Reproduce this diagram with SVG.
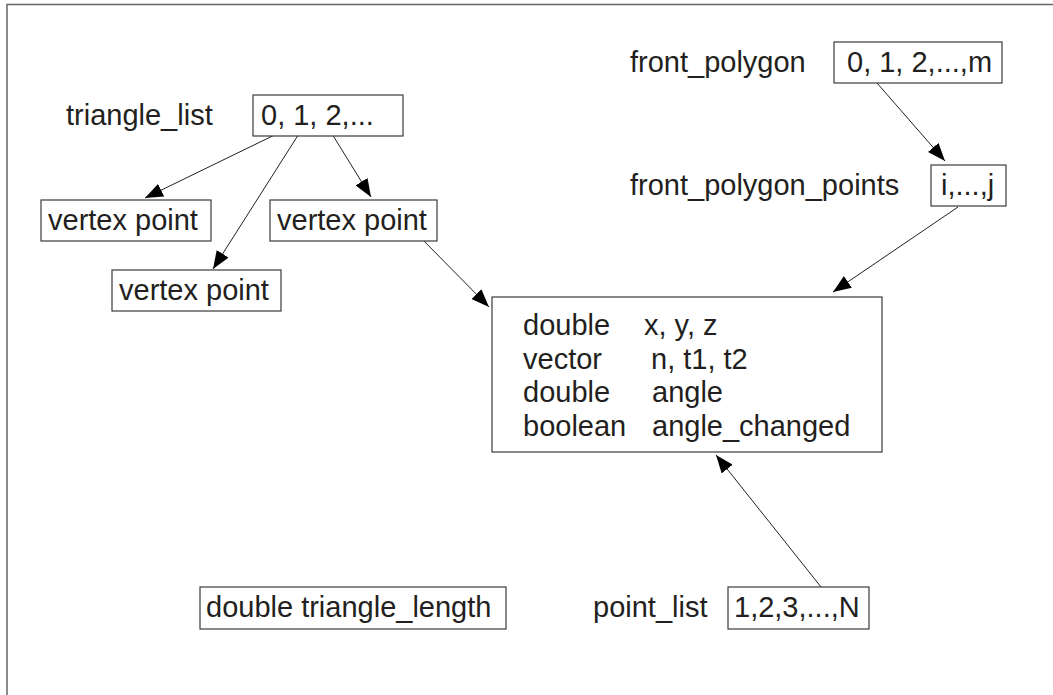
<svg xmlns="http://www.w3.org/2000/svg" width="1053" height="695" viewBox="0 0 1053 695">
<style>
  text { font-family: "Liberation Sans", Arial, sans-serif; font-size: 29px; fill: #231f20; }
  .box { fill: #ffffff; stroke: #3a3a3a; stroke-width: 1.2; }
  .frame { fill: none; stroke: #666666; stroke-width: 1.5; }
  .conn { fill: none; stroke: #231f20; stroke-width: 1; marker-end: url(#arrow); }
</style>
<defs>
  <marker id="arrow" markerUnits="userSpaceOnUse" markerWidth="18" markerHeight="14" viewBox="0 0 18 14" refX="18" refY="7" orient="auto">
    <path d="M0,0 L18,7 L0,14 Z" fill="#000000"/>
  </marker>
</defs>
<rect width="1053" height="695" fill="#ffffff"/>
<g id="frame">
  <path class="frame" d="M7,695 L7,4.5 L1053,4.5"/>
</g>
<g id="connectors">
  <line class="conn" x1="293" y1="126" x2="145" y2="198"/>
  <line class="conn" x1="302" y1="129" x2="213" y2="269"/>
  <line class="conn" x1="329" y1="129" x2="371" y2="197"/>
  <line class="conn" x1="877" y1="83" x2="945" y2="161"/>
  <line class="conn" x1="958" y1="207" x2="833" y2="292"/>
  <line class="conn" x1="421" y1="238" x2="489" y2="307"/>
  <line class="conn" x1="821" y1="587" x2="716" y2="455"/>
</g>
<g id="triangle_list">
  <text x="66" y="125">triangle_list</text>
  <rect class="box" x="253" y="95" width="150" height="41"/>
  <text x="261" y="125">0, 1, 2,...</text>
</g>
<g id="vertex1">
  <rect class="box" x="41" y="200" width="170" height="41"/>
  <text x="48" y="230">vertex point</text>
</g>
<g id="vertex2">
  <rect class="box" x="270" y="200" width="167" height="41"/>
  <text x="277" y="230">vertex point</text>
</g>
<g id="vertex3">
  <rect class="box" x="112" y="270" width="169" height="41"/>
  <text x="119" y="300">vertex point</text>
</g>
<g id="front_polygon">
  <text x="630" y="72">front_polygon</text>
  <rect class="box" x="834" y="42" width="168" height="41"/>
  <text x="847" y="72">0, 1, 2,...,m</text>
</g>
<g id="front_polygon_points">
  <text x="630" y="195">front_polygon_points</text>
  <rect class="box" x="931" y="165" width="75" height="41"/>
  <text x="941" y="195">i,...,j</text>
</g>
<g id="point">
  <rect class="box" x="492" y="297" width="390" height="155"/>
  <text x="523" y="335">double</text>
  <text x="644" y="335">x, y, z</text>
  <text x="523" y="369">vector</text>
  <text x="651" y="369">n, t1, t2</text>
  <text x="523" y="402">double</text>
  <text x="652" y="402">angle</text>
  <text x="523" y="436">boolean</text>
  <text x="652" y="436">angle_changed</text>
</g>
<g id="triangle_length">
  <rect class="box" x="200" y="587" width="306" height="42"/>
  <text x="206" y="617">double triangle_length</text>
</g>
<g id="point_list">
  <text x="593" y="617">point_list</text>
  <rect class="box" x="728" y="587" width="141" height="42"/>
  <text x="734" y="617">1,2,3,...,N</text>
</g>
</svg>
